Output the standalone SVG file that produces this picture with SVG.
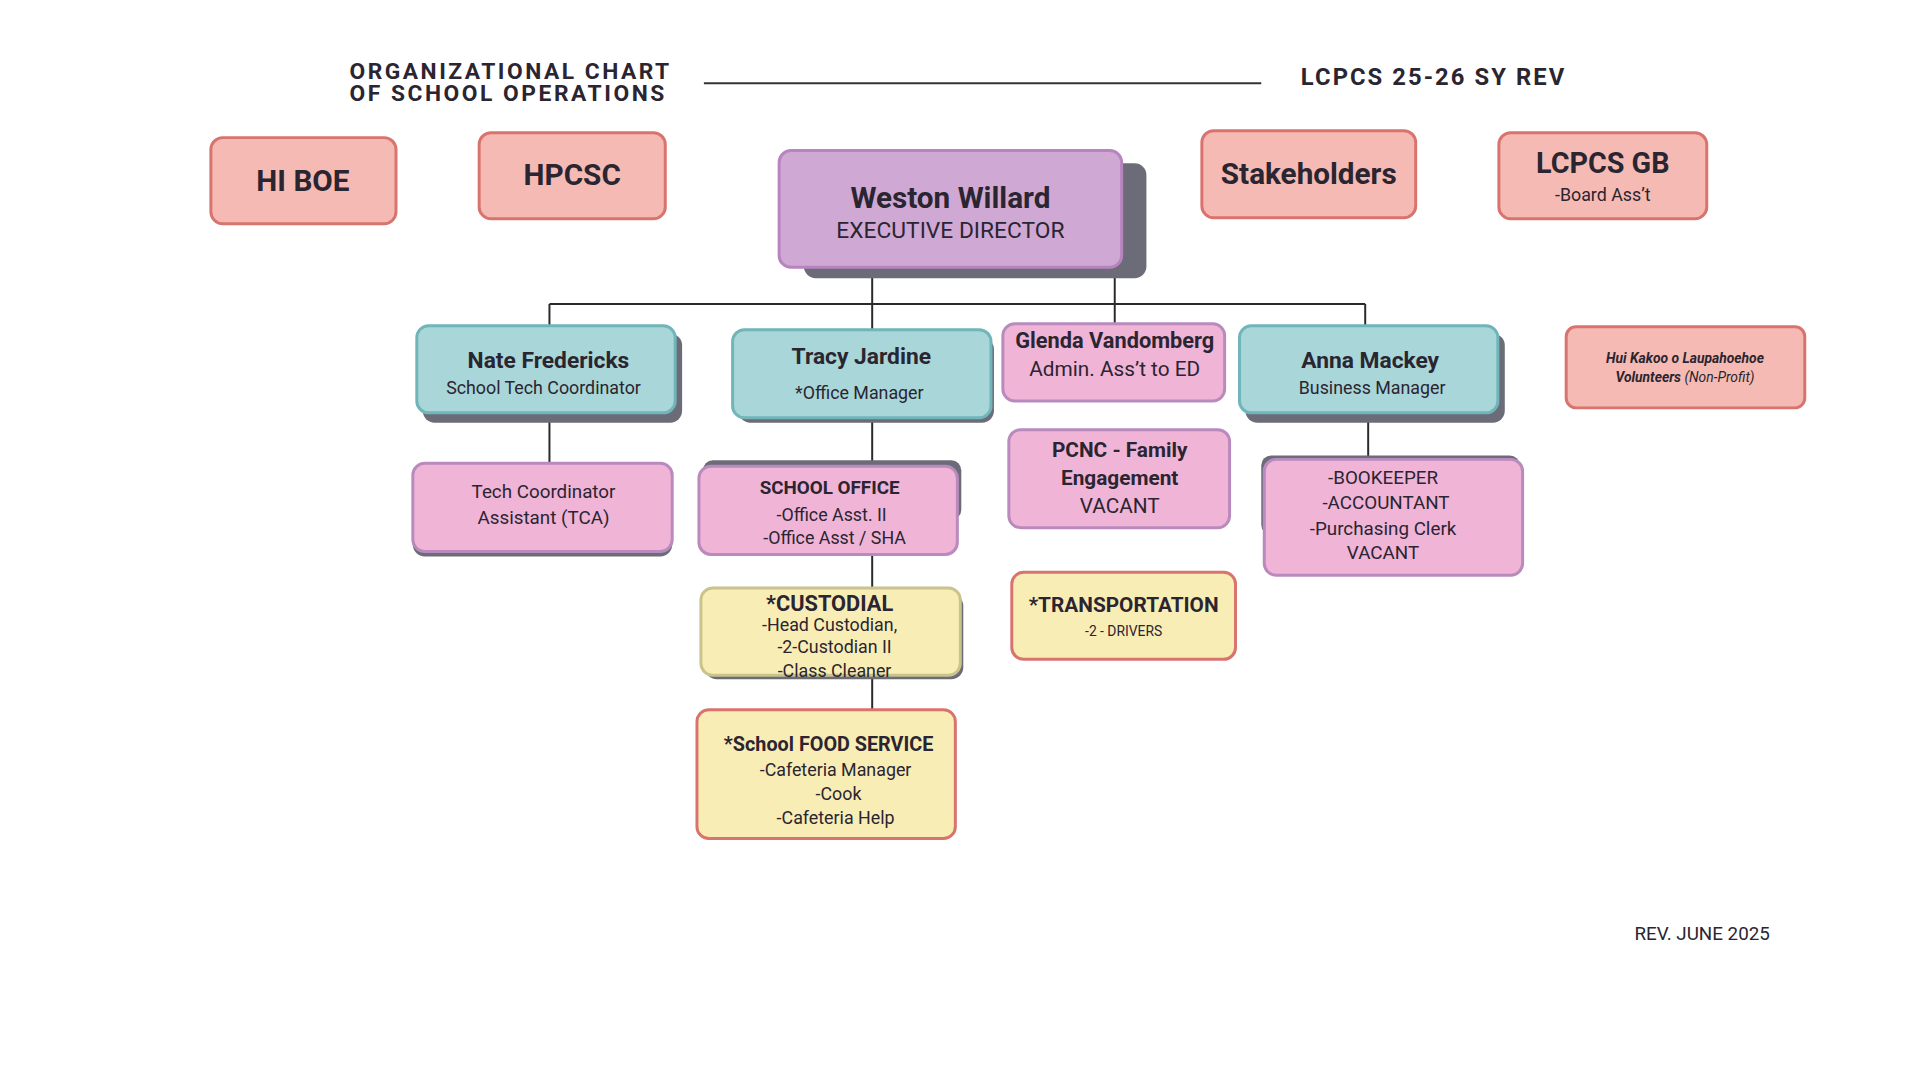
<svg xmlns="http://www.w3.org/2000/svg" width="1920" height="1082" viewBox="0 0 1920 1082">
<style>
text{font-family:Roboto,"Liberation Sans",sans-serif;fill:#2a2530;text-anchor:middle}
.b{font-weight:bold}
.sh{fill:#6b6c78}
.red{fill:#f5bab3;stroke:#d9736d;stroke-width:3}
.pur{fill:#cfa8d3;stroke:#b884c0;stroke-width:3}
.pink{fill:#f0b4d7;stroke:#b98abd;stroke-width:3}
.teal{fill:#a9d6d8;stroke:#70b5b9;stroke-width:3}
.yel{fill:#f9edb6;stroke:#c8c48c;stroke-width:3}
.yelr{fill:#f9edb6;stroke:#d9736d;stroke-width:3}
.ln{stroke:#2a2a2a;stroke-width:2;fill:none}
</style>
<rect width="1920" height="1082" fill="#fff"/>
<g transform="scale(0.99)">
<g id="title">
<text x="353" y="80" class="b" font-size="23" textLength="323" lengthAdjust="spacing" style="text-anchor:start">ORGANIZATIONAL CHART</text>
<text x="353" y="102" class="b" font-size="23" textLength="318" lengthAdjust="spacing" style="text-anchor:start">OF SCHOOL OPERATIONS</text>
<line x1="711" y1="84" x2="1274" y2="84" stroke="#333" stroke-width="2"/>
<text x="1314" y="86" class="b" font-size="24" textLength="266" lengthAdjust="spacing" style="text-anchor:start">LCPCS 25-26 SY REV</text>
<text x="1651" y="950" font-size="19" style="text-anchor:start">REV. JUNE 2025</text>
</g>
<g id="connectors">
<path class="ln" d="M555 307H1379M881 270V333M1126 270V328M555 307V329M1379 307V329M555 417V468M881 422V471M881 560V594M881 682V717M1382 417V464"/>
</g>
<g id="hiboe"><rect class="red" x="213" y="139" width="187" height="87" rx="12"/><text x="306" y="193" class="b" font-size="30">HI BOE</text></g>
<g id="hpcsc"><rect class="red" x="484" y="134" width="188" height="87" rx="12"/><text x="578" y="187" class="b" font-size="30">HPCSC</text></g>
<g id="ed"><rect class="sh" x="812" y="165" width="346" height="116" rx="12"/><rect class="pur" x="787" y="152" width="346" height="118" rx="12"/><text x="960" y="210" class="b" font-size="30">Weston Willard</text><text x="960" y="240" font-size="23">EXECUTIVE DIRECTOR</text></g>
<g id="stake"><rect class="red" x="1214" y="132" width="216" height="88" rx="12"/><text x="1322" y="186" class="b" font-size="30">Stakeholders</text></g>
<g id="gb"><rect class="red" x="1514" y="134" width="210" height="87" rx="12"/><text x="1619" y="175" class="b" font-size="29">LCPCS GB</text><text x="1619" y="203" font-size="18">-Board Ass’t</text></g>
<g id="hui"><rect class="red" x="1582" y="330" width="241" height="82" rx="10"/><text x="1702" y="367" class="b" font-size="14" font-style="italic">Hui Kakoo o Laupahoehoe</text><text x="1702" y="386" font-size="14" font-style="italic"><tspan class="b">Volunteers</tspan> (Non-Profit)</text></g>
<g id="nate"><rect class="sh" x="427" y="337" width="262" height="90" rx="12"/><rect class="teal" x="421" y="329" width="261" height="88" rx="12"/><text x="554" y="372" class="b" font-size="23">Nate Fredericks</text><text x="549" y="398" font-size="18">School Tech Coordinator</text></g>
<g id="tracy"><rect class="sh" x="746" y="341" width="258" height="86" rx="12"/><rect class="teal" x="740" y="333" width="261" height="89" rx="12"/><text x="870" y="368" class="b" font-size="23">Tracy Jardine</text><text x="868" y="403" font-size="18">*Office Manager</text></g>
<g id="glenda"><rect class="pink" x="1013" y="327" width="224" height="78" rx="12"/><text x="1126" y="352" class="b" font-size="22">Glenda Vandomberg</text><text x="1126" y="380" font-size="21">Admin. Ass’t to ED</text></g>
<g id="anna"><rect class="sh" x="1258" y="337" width="262" height="90" rx="12"/><rect class="teal" x="1252" y="329" width="261" height="88" rx="12"/><text x="1384" y="372" class="b" font-size="23">Anna Mackey</text><text x="1386" y="398" font-size="18">Business Manager</text></g>
<g id="tca"><rect class="sh" x="417" y="472" width="262" height="90" rx="12"/><rect class="pink" x="417" y="468" width="262" height="89" rx="12"/><text x="549" y="503" font-size="19">Tech Coordinator</text><text x="549" y="529" font-size="19">Assistant (TCA)</text></g>
<g id="office"><rect class="sh" x="710" y="465" width="261" height="60" rx="10"/><rect class="pink" x="706" y="471" width="261" height="89" rx="12"/><text x="838" y="499" class="b" font-size="19">SCHOOL OFFICE</text><text x="840" y="526" font-size="18">-Office Asst. II</text><text x="843" y="550" font-size="18">-Office Asst / SHA</text></g>
<g id="cust"><rect class="sh" x="712" y="600" width="261" height="86" rx="12"/><rect class="yel" x="708" y="594" width="262" height="88" rx="12"/><text x="838" y="617" class="b" font-size="22">*CUSTODIAL</text><text x="838" y="637" font-size="18">-Head Custodian,</text><text x="843" y="660" font-size="18">-2-Custodian II</text><text x="843" y="684" font-size="18">-Class Cleaner</text></g>
<g id="food"><rect class="yelr" x="704" y="717" width="261" height="130" rx="12"/><text x="837" y="759" class="b" font-size="20">*School FOOD SERVICE</text><text x="844" y="784" font-size="18">-Cafeteria Manager</text><text x="847" y="808" font-size="18">-Cook</text><text x="844" y="832" font-size="18">-Cafeteria Help</text></g>
<g id="pcnc"><rect class="pink" x="1019" y="434" width="223" height="99" rx="12"/><text x="1131" y="462" class="b" font-size="21">PCNC - Family</text><text x="1131" y="490" class="b" font-size="21">Engagement</text><text x="1131" y="518" font-size="21">VACANT</text></g>
<g id="trans"><rect class="yelr" x="1022" y="578" width="226" height="88" rx="12"/><text x="1135" y="618" class="b" font-size="21">*TRANSPORTATION</text><text x="1135" y="642" font-size="14">-2 - DRIVERS</text></g>
<g id="books"><rect class="sh" x="1274" y="460" width="261" height="80" rx="10"/><rect class="pink" x="1277" y="464" width="261" height="117" rx="12"/><text x="1397" y="489" font-size="19">-BOOKEEPER</text><text x="1400" y="514" font-size="19">-ACCOUNTANT</text><text x="1397" y="540" font-size="19">-Purchasing Clerk</text><text x="1397" y="565" font-size="19">VACANT</text></g>
</g>
</svg>
